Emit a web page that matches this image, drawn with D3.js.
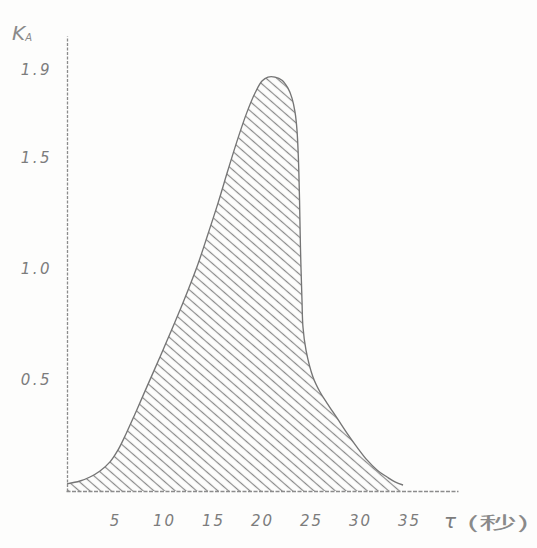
<!DOCTYPE html>
<html><head><meta charset="utf-8">
<script src="https://cdn.jsdelivr.net/npm/d3@7"></script>
<style>
html,body{margin:0;padding:0;background:#fdfdfc;}
svg{display:block;}
</style></head><body>
<script>
// ---- data ----
const tau = [0.10, 1.43, 2.45, 3.47, 4.49, 5.31, 6.12, 7.04, 8.06, 9.59, 11.12, 12.45, 13.47, 14.49, 15.51, 16.53, 17.55, 18.47, 19.29, 20.00, 20.61, 21.33, 22.04, 22.65, 23.06, 23.37, 23.57, 23.72, 23.83, 23.93, 24.08, 24.18, 24.49, 25.20, 25.92, 26.63, 27.65, 28.67, 29.69, 30.71, 31.73, 32.76, 33.57, 34.39];
const kA  = [0.032, 0.045, 0.063, 0.090, 0.131, 0.185, 0.257, 0.347, 0.450, 0.604, 0.761, 0.905, 1.023, 1.158, 1.297, 1.446, 1.590, 1.707, 1.793, 1.847, 1.865, 1.865, 1.851, 1.815, 1.770, 1.707, 1.626, 1.491, 1.311, 1.086, 0.860, 0.739, 0.635, 0.514, 0.446, 0.396, 0.329, 0.261, 0.198, 0.140, 0.095, 0.063, 0.041, 0.027];
const xTicks = [5, 10, 15, 20, 25, 30, 35];
const xTickLabels = ["5", "10", "15", "20", "25", "30", "35"];
const yTicks = [0.5, 1.0, 1.5, 1.9];
const yTickLabels = ["0.5", "1.0", "1.5", "1.9"];
const xLabel = "τ";
const xUnit = "(秒)";
const yLabel = "K";
const yLabelSub = "A";

// ---- drawing ----
const W = 537, H = 548;
const ink = "#7c7c7c";
const svg = d3.select("body").append("svg").attr("width", W).attr("height", H);

const x = d3.scaleLinear().domain([0, 40]).range([66, 458]);
const y = d3.scaleLinear().domain([0, 2.05]).range([491, 36]);

const pts = tau.map((t, i) => [t, kA[i]]);

const defs = svg.append("defs");
const pat = defs.append("pattern")
  .attr("id", "hatch")
  .attr("patternUnits", "userSpaceOnUse")
  .attr("width", 12).attr("height", 7)
  .attr("patternTransform", "rotate(41)");
pat.append("path").attr("d", "M-1,3.5 H13")
  .attr("stroke", "#8a8a8a").attr("stroke-width", 1.2);

const area = d3.area()
  .x(d => x(d[0])).y0(y(0)).y1(d => y(d[1]))
  .curve(d3.curveCatmullRom.alpha(0.5));
svg.append("path").datum(pts).attr("d", area)
  .attr("fill", "url(#hatch)").attr("stroke", "none");

const line = d3.line()
  .x(d => x(d[0])).y(d => y(d[1]))
  .curve(d3.curveCatmullRom.alpha(0.5));
svg.append("path").datum(pts).attr("d", line)
  .attr("fill", "none").attr("stroke", "#757575").attr("stroke-width", 1.35);

// axes
const yAxis = d3.axisLeft(y).tickValues(yTicks)
  .tickFormat((d, i) => yTickLabels[i]).tickSize(0).tickSizeOuter(0).tickPadding(15);
const gy = svg.append("g").attr("transform", `translate(${x(0) + 1},0)`).call(yAxis);
gy.select(".domain").attr("stroke", "#8c8c8c").attr("stroke-width", 1.3).attr("stroke-dasharray", "3,1.5");
gy.selectAll("text").attr("fill", ink).attr("font-family", "DejaVu Sans")
  .attr("font-style", "italic").attr("font-size", 15).attr("letter-spacing", 2.5);

const xAxis = d3.axisBottom(x).tickValues(xTicks)
  .tickFormat((d, i) => xTickLabels[i]).tickSize(0).tickSizeOuter(0).tickPadding(24);
const gx = svg.append("g").attr("transform", `translate(0,${y(0)})`).call(xAxis);
gx.select(".domain").attr("stroke", "#8c8c8c").attr("stroke-width", 1.3).attr("stroke-dasharray", "4,1.5");
gx.selectAll("text").attr("fill", ink).attr("font-family", "DejaVu Sans")
  .attr("font-style", "italic").attr("font-size", 15).attr("letter-spacing", 2);

// axis titles
const yt = svg.append("text").attr("x", 12).attr("y", 40)
  .attr("fill", "#8a8a8a").attr("font-family", "DejaVu Sans").attr("font-style", "italic")
  .attr("font-size", 20);
yt.append("tspan").text(yLabel);
yt.append("tspan").attr("font-size", 10).attr("dy", 1).text(yLabelSub);

svg.append("text").attr("x", 450).attr("y", 528).attr("text-anchor", "middle")
  .attr("fill", ink).attr("font-family", "DejaVu Sans").attr("font-style", "italic")
  .attr("font-size", 20).text(xLabel);
svg.append("text").attr("x", 466).attr("y", 529)
  .attr("fill", "#8a8a8a").attr("font-family", "Noto Sans CJK SC")
  .attr("font-size", 17).attr("textLength", 64).attr("lengthAdjust", "spacingAndGlyphs")
  .text(xUnit);
</script>
</body></html>
